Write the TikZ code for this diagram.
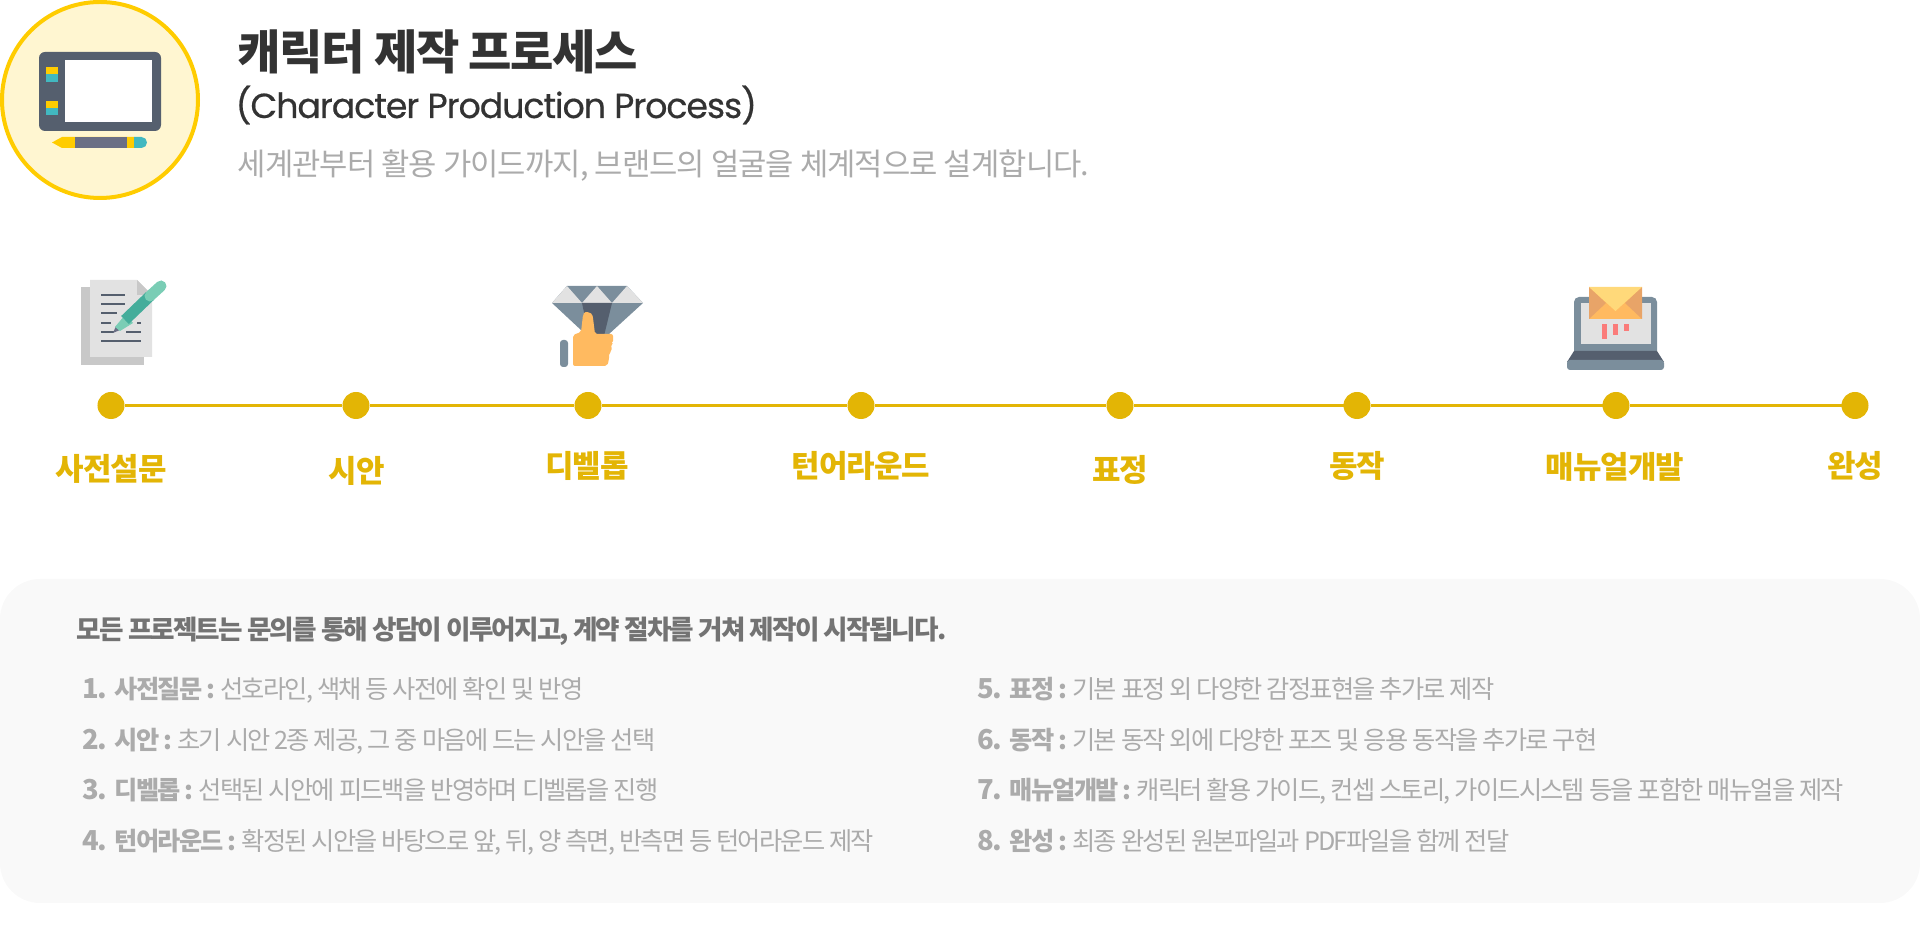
\documentclass[tikz,border=0pt]{standalone}
\usepackage{fontspec}
\newfontfamily\krfont[LetterSpace=-3]{Noto Sans CJK KR}
\newfontfamily\krtight[LetterSpace=-7]{Noto Sans CJK KR}
\newfontfamily\popfont[FakeBold=0.5,LetterSpace=-3]{Poppins}
\definecolor{gold}{HTML}{E3B505}
\definecolor{slate}{HTML}{555F6E}
\definecolor{steel}{HTML}{7B8E9C}
\definecolor{sheet}{HTML}{E2E2E2}
\definecolor{sheetback}{HTML}{C8C8C8}
\definecolor{amber}{HTML}{FFCC00}
\definecolor{cyanish}{HTML}{42B8C0}
\definecolor{penbody}{HTML}{6B6F85}
\definecolor{mint}{HTML}{7ACDB5}
\definecolor{mintdark}{HTML}{45AD9B}
\definecolor{skin}{HTML}{FFBA60}
\definecolor{flap}{HTML}{FFD97A}
\definecolor{flapside}{HTML}{E8A468}
\definecolor{chartbar}{HTML}{FA7C7A}
\newcommand{\itemnum}[1]{\makebox[0.32cm][l]{\bfseries\fontsize{7.8}{9}\selectfont #1}}
\tikzset{
	stepdot/.style={circle,fill=gold,inner sep=0pt,outer sep=0pt,minimum size=0.27cm},
	stepline/.style={draw=gold,line width=0.025cm},
	steplabel/.style={text=gold,font=\krfont\bfseries\fontsize{8.8}{10}\selectfont},
	itemtext/.style={anchor=base west,inner sep=0pt,text=black!33,font=\krtight\fontsize{7.18}{9}\selectfont},
	iconline/.style={slate,line width=0.025cm},
}
\begin{document}
\begin{tikzpicture}[x=0.01cm,y=-0.01cm]
	\useasboundingbox (0,0) rectangle (1920,934);
	% header badge
	\draw[draw=amber,fill=amber!18,line width=0.04cm] (100,100) circle (98);
	\fill[slate,rounded corners=0.06cm] (39,52) rectangle (161,131);
	\fill[white] (65,60) rectangle (152,122);
	\fill[amber] (45.5,67) rectangle (58,74);
	\fill[cyanish] (45.5,74) rectangle (58,82);
	\fill[amber] (45.5,101) rectangle (58,108);
	\fill[cyanish] (45.5,108) rectangle (58,115);
	\fill[amber] (52,142.5) -- (62,137) -- (134,137) -- (134,148) -- (62,148) -- cycle;
	\fill[penbody] (75,137) rectangle (127,148);
	\fill[cyanish] (134,137) -- (141.5,137) arc (-90:90:5.5) -- (134,148) -- cycle;
	% header text
	\node (title) at (237,52) [anchor=west,inner sep=0pt,text=black!80,font=\krfont\bfseries\fontsize{13.4}{16}\selectfont] {캐릭터 제작 프로세스};
	\node (subtitle) at (235,105) [anchor=west,inner sep=0pt,text=black!80,font=\popfont\fontsize{9.88}{12}\selectfont] {(Character Production Process)};
	\node (tagline) at (237,166) [anchor=west,inner sep=0pt,text=black!33,font=\krfont\fontsize{8.75}{11}\selectfont] {세계관부터 활용 가이드까지, 브랜드의 얼굴을 체계적으로 설계합니다.};
	% document icon
	\fill[sheetback] (81,287) rectangle (144,365);
	\fill[sheet] (90,280) -- (137,280) -- (152,295) -- (152,357) -- (90,357) -- cycle;
	\fill[sheetback] (137,280) -- (152,295) -- (137,295) -- cycle;
	\draw[iconline] (101,295) -- (125,295);
	\draw[iconline] (101,304) -- (125,304);
	\draw[iconline] (101,313) -- (117,313);
	\draw[iconline] (101,323) -- (111,323);
	\draw[iconline] (137,323) -- (141,323);
	\draw[iconline] (101,332) -- (114,332);
	\draw[iconline] (126,332) -- (141,332);
	\draw[iconline] (101,341) -- (141,341);
	\fill[penbody] (113,333) -- (116,326) -- (120,330) -- cycle;
	\fill[mint] (115,327) -- (125,315) -- (133,323) -- (120,331) -- cycle;
	\draw[mintdark,line width=0.11cm] (125,320) -- (150,296);
	\draw[mint,line width=0.11cm,line cap=round] (150,296) -- (161,286);
	% diamond icon
	\fill[steel] (567,286) -- (627,286) -- (643,303) -- (597,345) -- (552,303) -- cycle;
	\fill[sheet] (567,286) -- (552,303) -- (582,303) -- cycle;
	\fill[sheet] (597,286) -- (582,303) -- (612,303) -- cycle;
	\fill[sheet] (627,286) -- (612,303) -- (643,303) -- cycle;
	\fill[slate] (582,303) -- (612,303) -- (603,340) -- (590,340) -- cycle;
	\fill[steel,rounded corners=0.03cm] (560,340) rectangle (568,367);
	\fill[skin,rounded corners=0.02cm] (573,366) -- (573,335) -- (581,332) -- (583,315) .. controls (585,311) and (592,312) .. (593,318) -- (595,334) -- (613,334) -- (613,343) -- (611,344) -- (612,351) -- (609,353) -- (609,360) -- (607,366) -- cycle;
	% laptop icon
	\fill[steel,rounded corners=0.05cm] (1574,297) rectangle (1657,356);
	\fill[sheet] (1581,303) rectangle (1651,344);
	\fill[slate] (1574,351) -- (1657,351) -- (1664,362) -- (1567,362) -- cycle;
	\fill[steel,rounded corners=0.03cm] (1567,360) rectangle (1664,370);
	\fill[skin] (1589,287) rectangle (1642,319);
	\fill[flapside] (1589,287) -- (1606,303) -- (1589,319) -- cycle;
	\fill[flapside] (1642,287) -- (1625,303) -- (1642,319) -- cycle;
	\fill[flap] (1589,287) -- (1642,287) -- (1615.5,311) -- cycle;
	\fill[chartbar] (1602,324) rectangle (1607,339);
	\fill[chartbar] (1613,324) rectangle (1618,335);
	\fill[chartbar] (1624,324) rectangle (1629,331);
	% timeline
	\node (dota) at (111,405.5) [stepdot] {};
	\node (dotb) at (356,405.5) [stepdot] {};
	\node (dotc) at (588,405.5) [stepdot] {};
	\node (dotd) at (861,405.5) [stepdot] {};
	\node (dote) at (1120,405.5) [stepdot] {};
	\node (dotf) at (1357,405.5) [stepdot] {};
	\node (dotg) at (1616,405.5) [stepdot] {};
	\node (doth) at (1855,405.5) [stepdot] {};
	\draw[stepline] (dota) -- (dotb);
	\draw[stepline] (dotb) -- (dotc);
	\draw[stepline] (dotc) -- (dotd);
	\draw[stepline] (dotd) -- (dote);
	\draw[stepline] (dote) -- (dotf);
	\draw[stepline] (dotf) -- (dotg);
	\draw[stepline] (dotg) -- (doth);
	\node (laba) at (111,469) [steplabel] {사전설문};
	\node (labb) at (356.5,471) [steplabel] {시안};
	\node (labc) at (587,466) [steplabel] {디벨롭};
	\node (labd) at (861,466) [steplabel] {턴어라운드};
	\node (labe) at (1120,470) [steplabel] {표정};
	\node (labf) at (1357,465.5) [steplabel] {동작};
	\node (labg) at (1615,467) [steplabel] {매뉴얼개발};
	\node (labh) at (1855,465.5) [steplabel] {완성};
	% bottom panel
	\fill[black!2.5,rounded corners=0.4cm] (0,579) rectangle (1920,903);
	\node (lead) at (76,640) [itemtext,text=black!55,font=\krtight\bfseries\fontsize{7.57}{9}\selectfont] {모든 프로젝트는 문의를 통해 상담이 이루어지고, 계약 절차를 거쳐 제작이 시작됩니다.};
	\node (itema) at (82,698.5) [itemtext] {\itemnum{1.}{\bfseries 사전질문 :} 선호라인, 색채 등 사전에 확인 및 반영};
	\node (itemb) at (82,749.5) [itemtext] {\itemnum{2.}{\bfseries 시안 :} 초기 시안 2종 제공, 그 중 마음에 드는 시안을 선택};
	\node (itemc) at (82,799.5) [itemtext] {\itemnum{3.}{\bfseries 디벨롭 :} 선택된 시안에 피드백을 반영하며 디벨롭을 진행};
	\node (itemd) at (82,850.5) [itemtext] {\itemnum{4.}{\bfseries 턴어라운드 :} 확정된 시안을 바탕으로 앞, 뒤, 양 측면, 반측면 등 턴어라운드 제작};
	\node (iteme) at (977,698.5) [itemtext] {\itemnum{5.}{\bfseries 표정 :} 기본 표정 외 다양한 감정표현을 추가로 제작};
	\node (itemf) at (977,749.5) [itemtext] {\itemnum{6.}{\bfseries 동작 :} 기본 동작 외에 다양한 포즈 및 응용 동작을 추가로 구현};
	\node (itemg) at (977,799.5) [itemtext] {\itemnum{7.}{\bfseries 매뉴얼개발 :} 캐릭터 활용 가이드, 컨셉 스토리, 가이드시스템 등을 포함한 매뉴얼을 제작};
	\node (itemh) at (977,850.5) [itemtext] {\itemnum{8.}{\bfseries 완성 :} 최종 완성된 원본파일과 PDF파일을 함께 전달};
\end{tikzpicture}
\end{document}
